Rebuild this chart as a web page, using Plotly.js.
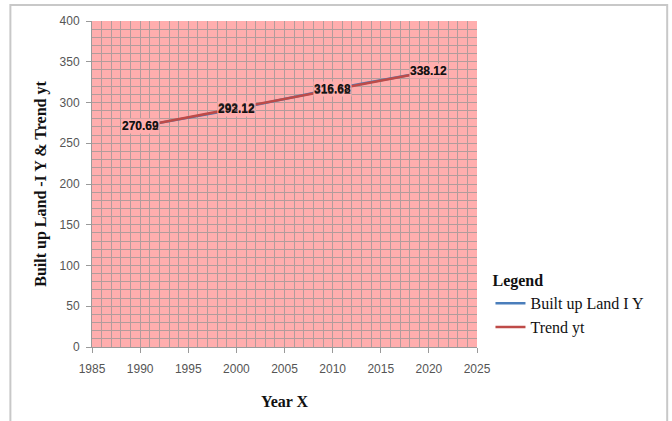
<!DOCTYPE html>
<html>
<head>
<meta charset="utf-8">
<script src="https://cdn.plot.ly/plotly-3.0.1.min.js"></script>
<style>html,body{margin:0;padding:0;background:#fff;}#chart{width:672px;height:421px;}</style>
</head>
<body>
<div id="chart"></div>
<script>
var years = [1990, 2000, 2010, 2020];
var builtUp = [270.69, 292.12, 316.68, 338.12];
var trend = [270.62, 293.12, 315.62, 338.12];
var xTicks = [1985, 1990, 1995, 2000, 2005, 2010, 2015, 2020, 2025];
var yTicks = [0, 50, 100, 150, 200, 250, 300, 350, 400];

var pink = '#FFAEAE';
var gridCol = '#B29C9C';
var labelFont = {family: 'Liberation Sans, Arial, sans-serif', size: 12, color: '#111'};
var serif = 'Liberation Serif, Times New Roman, serif';

var traces = [
  {x: years, y: builtUp, name: 'Built up Land I Y', mode: 'lines',
   line: {color: '#4A7EBB', width: 2.5}},
  {x: years, y: trend, name: 'Trend yt', mode: 'lines',
   line: {color: '#BE4B48', width: 2.5}}
];

var annotations = [];
years.forEach(function (yr, i) {
  annotations.push({x: yr, y: builtUp[i], text: '<b>' + builtUp[i].toFixed(2) + '</b>',
    showarrow: false, font: labelFont, bgcolor: pink, borderpad: 0, xanchor: 'center', yanchor: 'middle'});
});
years.forEach(function (yr, i) {
  annotations.push({x: yr, y: trend[i], text: '<b>' + trend[i].toFixed(2) + '</b>',
    showarrow: false, font: {family: labelFont.family, size: 12, color: 'rgba(20,20,20,0.7)'}, xanchor: 'center', yanchor: 'middle'});
});

var layout = {
  width: 672, height: 421,
  margin: {l: 92, r: 195, t: 21, b: 74},
  paper_bgcolor: '#ffffff',
  plot_bgcolor: pink,
  showlegend: true,
  legend: {
    x: 1.035, y: 0.25, xanchor: 'left', yanchor: 'top',
    title: {text: '<b>Legend</b>', side: 'top', font: {family: serif, size: 16, color: '#111'}},
    font: {family: serif, size: 16, color: '#111'},
    bgcolor: 'rgba(0,0,0,0)', tracegroupgap: 4, itemwidth: 30
  },
  xaxis: {
    range: [1985, 2025], tickvals: xTicks, ticktext: xTicks.map(String),
    showgrid: true, gridcolor: gridCol, gridwidth: 1,
    minor: {dtick: 1, showgrid: true, gridcolor: gridCol, gridwidth: 1},
    zeroline: false, showline: true, linecolor: '#9a9a9a', linewidth: 1,
    ticks: 'outside', ticklen: 5, tickcolor: '#9a9a9a', ticklabelstandoff: 6,
    tickfont: {family: 'Liberation Sans, Arial, sans-serif', size: 12, color: '#555'},
    title: {text: '<b>Year X</b>', font: {family: serif, size: 16, color: '#111'}, standoff: 20}
  },
  yaxis: {
    range: [0, 400], tickvals: yTicks, ticktext: yTicks.map(String),
    showgrid: true, gridcolor: gridCol, gridwidth: 1,
    minor: {dtick: 10, showgrid: true, gridcolor: gridCol, gridwidth: 1},
    zeroline: false, showline: true, linecolor: '#9a9a9a', linewidth: 1,
    ticks: 'outside', ticklen: 5, tickcolor: '#9a9a9a', ticklabelstandoff: 4,
    tickfont: {family: 'Liberation Sans, Arial, sans-serif', size: 12, color: '#555'},
    title: {text: '<b>Built up Land -I Y &amp; Trend yt</b>', font: {family: serif, size: 16, color: '#111'}, standoff: 8}
  },
  annotations: annotations,
  shapes: [
    {type: 'path', xref: 'paper', yref: 'paper',
     path: 'M -0.212 -0.3 L -0.212 1.049 L 1.494 1.049 L 1.494 -0.3',
     line: {color: '#c8c8c8', width: 2}}
  ]
};

Plotly.newPlot('chart', traces, layout, {staticPlot: true, displayModeBar: false});
</script>
</body>
</html>
